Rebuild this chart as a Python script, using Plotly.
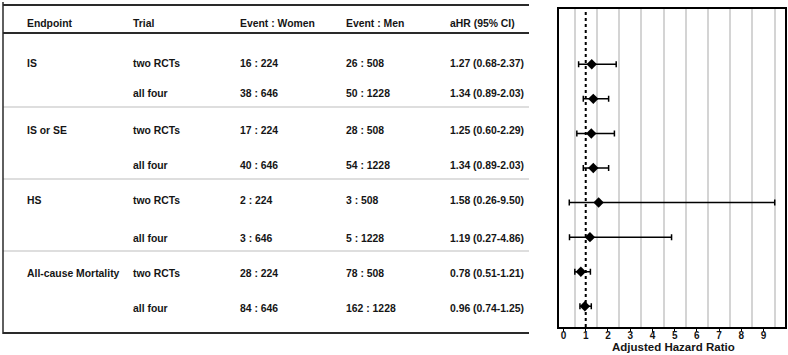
import plotly.graph_objects as go

# ---------------- data ----------------
headers = ["Endpoint", "Trial", "Event : Women", "Event : Men", "aHR (95% CI)"]
endpoints = ["IS", "", "IS or SE", "", "HS", "", "All-cause Mortality", ""]
trials = ["two RCTs", "all four", "two RCTs", "all four", "two RCTs", "all four", "two RCTs", "all four"]
events_women = ["16 : 224", "38 : 646", "17 : 224", "40 : 646", "2 : 224", "3 : 646", "28 : 224", "84 : 646"]
events_men = ["26 : 508", "50 : 1228", "28 : 508", "54 : 1228", "3 : 508", "5 : 1228", "78 : 508", "162 : 1228"]
ahr = [1.27, 1.34, 1.25, 1.34, 1.58, 1.19, 0.78, 0.96]
ci_low = [0.68, 0.89, 0.60, 0.89, 0.26, 0.27, 0.51, 0.74]
ci_high = [2.37, 2.03, 2.29, 2.03, 9.50, 4.86, 1.21, 1.25]
x_ticks = [0, 1, 2, 3, 4, 5, 6, 7, 8, 9]
x_grid = [0.5, 1.5, 2.5, 3.5, 4.5, 5.5, 6.5, 7.5, 8.5, 9.5]
ref_line = 1
x_title = "Adjusted Hazard Ratio"

# ---------------- layout constants (pixels in table axis) ----------------
W, H = 788, 355
COL_X = [25, 131, 238, 344, 448]
ROW_Y = [63, 93, 130, 165, 200, 238, 273, 308]
HEADER_Y = 23
TABLE_LEFT, TABLE_RIGHT = 3, 529
LINE_TOP, LINE_HEAD, LINE_BOTTOM = 5, 33, 333
SEPARATORS = [107, 179, 251]

FONT = "Liberation Sans, Arial, sans-serif"
TXT = "#151515"
FS = 10.4

ahr_text = [f"{h:.2f} ({l:.2f}-{u:.2f})" for h, l, u in zip(ahr, ci_low, ci_high)]
columns = [endpoints, trials, events_women, events_men, ahr_text]

fig = go.Figure()

# invisible trace for table axes (drawn first so forest sits on top)
fig.add_trace(go.Scatter(x=[0], y=[0], mode="markers", marker=dict(opacity=0),
                         xaxis="x2", yaxis="y2", showlegend=False, hoverinfo="skip"))

# forest plot
rows = list(range(1, len(ahr) + 1))
fig.add_trace(go.Scatter(
    x=ahr, y=rows, mode="markers",
    marker=dict(symbol="diamond", size=8, color="black"),
    error_x=dict(type="data", symmetric=False,
                 array=[u - h for h, u in zip(ahr, ci_high)],
                 arrayminus=[h - l for h, l in zip(ahr, ci_low)],
                 color="black", thickness=1.5, width=3),
    xaxis="x", yaxis="y", showlegend=False, hoverinfo="skip",
))

annotations = []
for ci, h in enumerate(headers):
    annotations.append(dict(x=COL_X[ci], y=HEADER_Y, xref="x2", yref="y2", text=f"<b>{h}</b>",
                            showarrow=False, xanchor="left", yanchor="middle",
                            font=dict(family=FONT, size=FS, color=TXT)))
for ci, col in enumerate(columns):
    for ri, val in enumerate(col):
        if val:
            annotations.append(dict(x=COL_X[ci], y=ROW_Y[ri], xref="x2", yref="y2", text=f"<b>{val}</b>",
                                    showarrow=False, xanchor="left", yanchor="middle",
                                    font=dict(family=FONT, size=FS, color=TXT)))
# x-axis title
annotations.append(dict(x=673, y=347, xref="x2", yref="y2", text=f"<b>{x_title}</b>",
                        showarrow=False, xanchor="center", yanchor="middle",
                        font=dict(family=FONT, size=11.5, color=TXT)))

shapes = []
for yy in [LINE_TOP, LINE_HEAD, LINE_BOTTOM]:
    shapes.append(dict(type="line", xref="x2", yref="y2", x0=TABLE_LEFT, x1=TABLE_RIGHT, y0=yy, y1=yy,
                       line=dict(color="#2a2a2a", width=2)))
for yy in SEPARATORS:
    shapes.append(dict(type="line", xref="x2", yref="y2", x0=TABLE_LEFT, x1=TABLE_RIGHT, y0=yy, y1=yy,
                       line=dict(color="#bdbdbd", width=1)))
shapes.append(dict(type="line", xref="x2", yref="y2", x0=TABLE_LEFT, x1=TABLE_LEFT, y0=2, y1=LINE_BOTTOM + 1,
                   line=dict(color="#2a2a2a", width=1.5)))
# reference line
shapes.append(dict(type="line", xref="x", yref="y domain", x0=ref_line, x1=ref_line, y0=0, y1=1,
                   line=dict(color="black", width=2, dash="dot")))

fig.update_layout(
    width=W, height=H,
    margin=dict(l=0, r=0, t=0, b=0),
    paper_bgcolor="white", plot_bgcolor="rgba(0,0,0,0)",
    annotations=annotations, shapes=shapes,
    xaxis=dict(domain=[559 / W, 785 / W], range=[-0.202, 9.962],
               tickvals=x_ticks, ticktext=[f"<b>{t}</b>" for t in x_ticks],
               ticks="outside", ticklen=3, tickwidth=1, tickcolor="black",
               ticklabelstandoff=-5,
               showgrid=False, zeroline=False,
               showline=True, linecolor="black", linewidth=1.5, mirror=True,
               tickfont=dict(family=FONT, size=10, color=TXT),
               minor=dict(tickvals=x_grid, showgrid=True, gridcolor="#d4d4d4", gridwidth=1.5, ticks=""),
               anchor="y"),
    yaxis=dict(domain=[1 - 327 / H, 1 - 9 / H], range=[8.6, -0.6],
               showticklabels=False, ticks="", showgrid=False, zeroline=False,
               showline=True, linecolor="black", linewidth=1.5, mirror=True, anchor="x"),
    xaxis2=dict(domain=[0, 1], range=[0, W], visible=False, anchor="y2"),
    yaxis2=dict(domain=[0, 1], range=[H, 0], visible=False, anchor="x2"),
)

fig.write_html("out.html", config={"displayModeBar": False},
               post_script="document.body.style.margin='0';document.body.style.padding='0';")
